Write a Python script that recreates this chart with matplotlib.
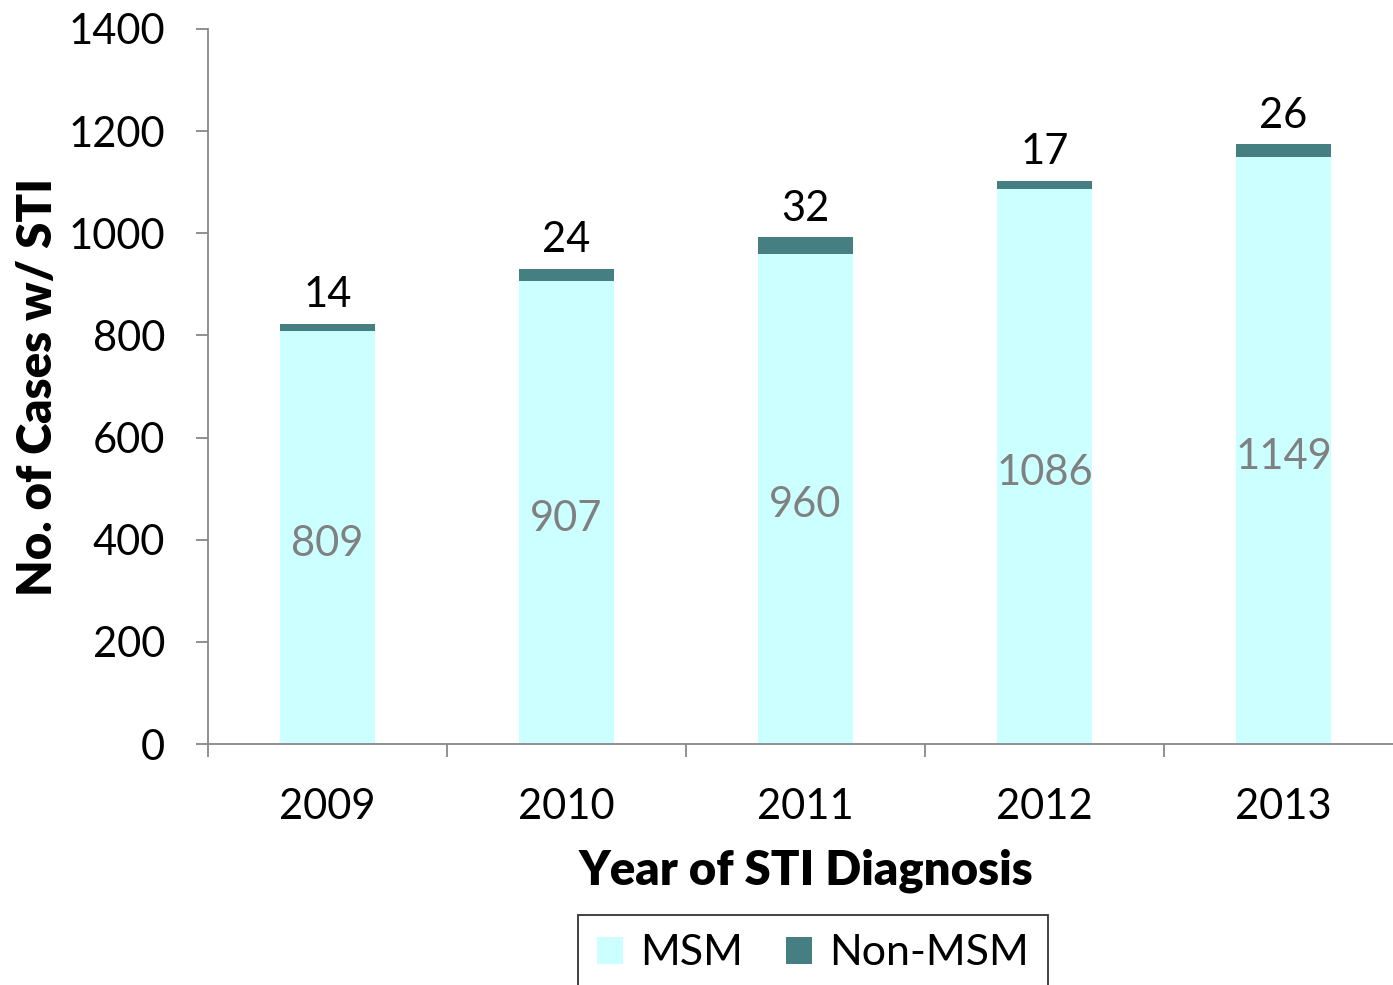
import matplotlib
matplotlib.use("Agg")
import matplotlib.pyplot as plt
import numpy as np

years = ["2009", "2010", "2011", "2012", "2013"]
msm = [809, 907, 960, 1086, 1149]
non_msm = [14, 24, 32, 17, 26]

plt.rcParams['font.family'] = ['Lato', 'DejaVu Sans']

fig = plt.figure(figsize=(13.93, 9.85), dpi=100)
ax = fig.add_axes([208/1393, 241/985, (1403-208)/1393, (744-29)/985])

x = np.arange(len(years))
w = 0.40
c_msm = '#CCFFFF'
c_non = '#457F82'
b1 = ax.bar(x, msm, w, color=c_msm, label='MSM', zorder=2)
b2 = ax.bar(x, non_msm, w, bottom=msm, color=c_non, label='Non-MSM', zorder=2)

for xi, m, n in zip(x, msm, non_msm):
    ax.text(xi, m/2 - 12, str(m), ha='center', va='center', fontsize=30, color='#808080')
    ax.text(xi, m+n+18, str(n), ha='center', va='bottom', fontsize=30, color='black')

ax.set_xlim(-0.5, 4.5)
ax.set_ylim(0, 1400)
ax.set_yticks(np.arange(0, 1401, 200))
ax.set_xticks(x)
ax.set_xticklabels(years)
ax.set_xticks(np.arange(-0.5, 4.6, 1), minor=True)
ax.tick_params(axis='x', which='major', length=0, pad=32, labelsize=30)
ax.tick_params(axis='x', which='minor', length=9, width=1.3, color='#888888')
ax.tick_params(axis='y', length=9, width=1.3, color='#888888', pad=22, labelsize=30)

for s in ['top', 'right']:
    ax.spines[s].set_visible(False)
for s in ['left', 'bottom']:
    ax.spines[s].set_color('#888888')
    ax.spines[s].set_linewidth(1.3)

ax.set_xlabel('Year of STI Diagnosis', fontsize=34, fontweight='heavy', labelpad=16)
ax.set_ylabel('No. of Cases w/ STI', fontsize=34, fontweight='heavy', labelpad=6)

leg = fig.legend(handles=[b1, b2], labels=['MSM', 'Non-MSM'], loc='upper center',
                 bbox_to_anchor=(813/1393, (985-915)/985), ncol=2, fontsize=31,
                 frameon=True, fancybox=False, edgecolor='black',
                 handlelength=0.6, handleheight=0.6, handletextpad=0.4,
                 columnspacing=1.0, borderpad=0.45, borderaxespad=0)
leg.get_frame().set_linewidth(1.3)

fig.savefig('out.png', dpi=100)
